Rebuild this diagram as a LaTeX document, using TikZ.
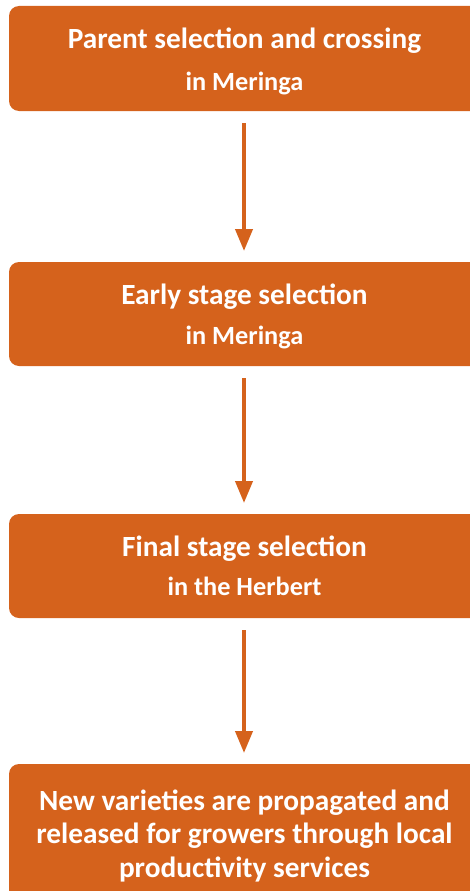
\documentclass[tikz,border=0pt]{standalone}
\usepackage{fontspec}
\setmainfont{Carlito}
\usetikzlibrary{arrows.meta}
\definecolor{boxorange}{HTML}{D5621C}
\tikzset{
  stagebox/.style={fill=boxorange, draw=none, rounded corners=10pt},
  bigtxt/.style={text=white, font=\bfseries\fontsize{29.3}{34}\selectfont, anchor=base, inner sep=0pt},
  smalltxt/.style={text=white, font=\bfseries\fontsize{26.3}{30}\selectfont, anchor=base, inner sep=0pt},
  flowarrow/.style={draw=boxorange, line width=4pt, -{Triangle[width=17pt,length=22pt]}, shorten <=12pt, shorten >=11pt}
}
\begin{document}
\begin{tikzpicture}[x=1pt,y=-1pt]
\useasboundingbox (0,0) rectangle (470,891);
\begin{scope}
\clip (0,0) rectangle (470,891);
\path[stagebox] (9,6) rectangle (480,111);
\coordinate (b1) at (244,111);
\path[stagebox] (9,262) rectangle (480,366);
\coordinate (b2t) at (244,262);
\coordinate (b2) at (244,366);
\path[stagebox] (9,514) rectangle (480,618);
\coordinate (b3t) at (244,514);
\coordinate (b3) at (244,618);
\path[stagebox] (9,764) rectangle (480,910);
\coordinate (b4t) at (244,764);
\end{scope}
\node[bigtxt] (t1a) at (244.5,48.5) {Parent selection and crossing};
\node[smalltxt] (t1b) at (244.5,90.5) {in Meringa};
\node[bigtxt] (t2a) at (244.5,304.2) {Early stage selection};
\node[smalltxt] (t2b) at (244.5,344) {in Meringa};
\node[bigtxt] (t3a) at (244.5,556.3) {Final stage selection};
\node[smalltxt] (t3b) at (244.5,595.8) {in the Herbert};
\node[bigtxt] (t4a) at (244.5,810) {New varieties are propagated and};
\node[bigtxt] (t4b) at (244.5,843.5) {released for growers through local};
\node[bigtxt] (t4c) at (244.5,877.2) {productivity services};
\draw[flowarrow] (b1) -- (b2t);
\draw[flowarrow] (b2) -- (b3t);
\draw[flowarrow] (b3) -- (b4t);
\end{tikzpicture}
\end{document}
